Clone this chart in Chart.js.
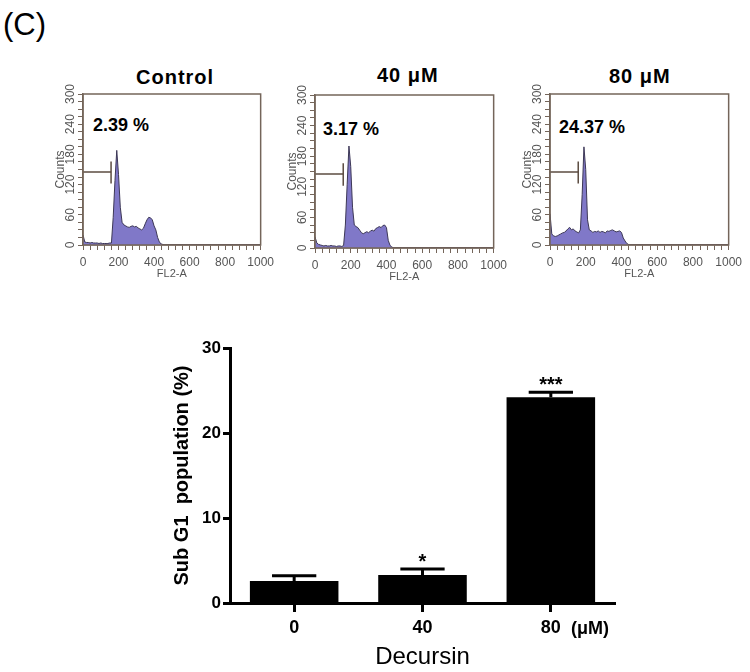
<!DOCTYPE html>
<html>
<head>
<meta charset="utf-8">
<script src="https://cdn.jsdelivr.net/npm/chart.js@4.4.0/dist/chart.umd.min.js"></script>
<style>
  body { margin: 0; background: #fff; font-family: "Liberation Sans", Arial, sans-serif; }
  #page { position: relative; width: 750px; height: 672px; overflow: hidden; }
  .abs { position: absolute; white-space: nowrap; line-height: 1; color: #000; }
  .panel-title { font-size: 20px; font-weight: bold; letter-spacing: 1px; }
  .pct { font-size: 18px; font-weight: bold; }
  canvas { position: absolute; }
</style>
</head>
<body>
<div id="page">
  <div class="abs" style="left:3px; top:9px; font-size:31px;">(C)</div>

  <div class="abs panel-title" style="left:136px; top:67px;">Control</div>
  <div class="abs panel-title" style="left:377px; top:65px;">40 μM</div>
  <div class="abs panel-title" style="left:609px; top:66px;">80 μM</div>

  <div class="abs pct" style="left:93px; top:116px;">2.39 %</div>
  <div class="abs pct" style="left:323px; top:120px;">3.17 %</div>
  <div class="abs pct" style="left:559px; top:118px;">24.37 %</div>

  <canvas id="histControl" width="239" height="201" style="left:40px; top:84px;"></canvas>
  <canvas id="hist40" width="240" height="203" style="left:272px; top:85px;"></canvas>
  <canvas id="hist80" width="240" height="201" style="left:507px; top:84px;"></canvas>

  <canvas id="barChart" width="490" height="342" style="left:140px; top:330px;"></canvas>
  <div class="abs" style="left:571px; top:619px; font-size:18px; font-weight:bold;">(μM)</div>
</div>

<script>
// --- histogram data (FL2-A channel vs counts) ---
const channels = [0, 10, 20, 30, 40, 50, 60, 70, 80, 90,
                  100, 110, 120, 130, 140, 150, 160, 170, 180, 190,
                  200, 210, 220, 230, 240, 250, 260, 270, 280, 290,
                  300, 310, 320, 330, 340, 350, 360, 370, 380, 390,
                  400, 410, 420, 430, 440, 450, 460, 470, 1000];

const controlCounts = [20, 6, 5, 5, 4, 5, 4, 4, 4, 3,
                       4, 3, 3, 3, 3, 4, 4, 55, 128, 188,
                       140, 75, 45, 40, 38, 36, 35, 37, 38, 36,
                       37, 34, 32, 30, 33, 42, 50, 55, 54, 50,
                       38, 30, 15, 6, 2, 1, 0, 0, 0];

const dose40Counts = [22, 10, 7, 6, 5, 4, 5, 4, 4, 5,
                      4, 4, 3, 4, 4, 3, 5, 45, 125, 200,
                      160, 80, 45, 42, 40, 35, 30, 28, 30, 32,
                      30, 33, 35, 33, 38, 40, 42, 40, 44, 45,
                      40, 15, 5, 2, 0, 0, 0, 0, 0];

const dose80Counts = [62, 22, 18, 17, 18, 20, 22, 24, 25, 28,
                      32, 35, 30, 32, 28, 26, 24, 30, 100, 195,
                      150, 50, 30, 28, 25, 27, 26, 28, 25, 27,
                      26, 24, 28, 27, 29, 30, 28, 26, 27, 28,
                      25, 14, 8, 3, 1, 0, 0, 0, 0];

// M1 gate marker (sub-G1 region)
const gateStart = 0;
const gateEnd = 158;
const gateLevel = 145;
const gateLow = 122;
const gateHigh = 166;

// --- bar chart data ---
const doses = ['0', '40', '80'];
const subG1Mean = [2.6, 3.3, 24.2];
const subG1Sem = [0.6, 0.7, 0.6];
const significance = ['', '*', '***'];

const histFill = '#8078c8';
const histLine = '#3d3856';
const axisBrown = '#74655a';
const labelGray = '#555555';

// box around the histogram plot area
const framePlugin = {
    id: 'frame',
    afterDatasetsDraw(chart) {
        const { ctx, chartArea: a } = chart;
        ctx.save();
        ctx.strokeStyle = axisBrown;
        ctx.lineWidth = 1.5;
        ctx.strokeRect(a.left, a.top, a.right - a.left, a.bottom - a.top);
        ctx.restore();
    }
};

function makeHistogram(canvasId, counts) {
    const points = channels.map((c, i) => ({ x: c, y: counts[i] }));
    new Chart(document.getElementById(canvasId), {
        type: 'line',
        data: {
            datasets: [
                {
                    data: points,
                    fill: 'origin',
                    backgroundColor: histFill,
                    borderColor: histLine,
                    borderWidth: 1,
                    pointRadius: 0,
                    tension: 0
                },
                {
                    data: [{ x: gateStart, y: gateLevel }, { x: gateEnd, y: gateLevel }],
                    borderColor: '#5b4b40',
                    borderWidth: 1.5,
                    pointRadius: 0,
                    fill: false
                },
                {
                    data: [{ x: gateEnd, y: gateLow }, { x: gateEnd, y: gateHigh }],
                    borderColor: '#5b4b40',
                    borderWidth: 1.5,
                    pointRadius: 0,
                    fill: false
                }
            ]
        },
        options: {
            responsive: false,
            animation: false,
            layout: { padding: { top: 10, right: 12, left: 0, bottom: 0 } },
            plugins: { legend: { display: false }, tooltip: { enabled: false } },
            scales: {
                x: {
                    type: 'linear',
                    min: 0,
                    max: 1000,
                    afterFit: s => { s.height = 40; },
                    border: { color: axisBrown, width: 1.5 },
                    grid: { drawOnChartArea: false, tickLength: 5, color: axisBrown },
                    ticks: {
                        stepSize: 40,
                        autoSkip: false,
                        maxRotation: 0,
                        padding: 5,
                        color: labelGray,
                        font: { family: "'Liberation Sans', Arial", size: 12 },
                        callback: v => (v % 200 === 0 ? v : '')
                    },
                    title: {
                        display: true,
                        text: 'FL2-A',
                        color: labelGray,
                        padding: { top: 0, bottom: 4 },
                        font: { family: "'Liberation Sans', Arial", size: 11 }
                    }
                },
                y: {
                    min: 0,
                    max: 300,
                    afterFit: s => { s.width = 43; },
                    border: { color: axisBrown, width: 1.5 },
                    grid: { drawOnChartArea: false, tickLength: 5, color: axisBrown },
                    ticks: {
                        stepSize: 15,
                        autoSkip: false,
                        minRotation: 90,
                        maxRotation: 90,
                        crossAlign: 'center',
                        padding: -3,
                        color: labelGray,
                        font: { family: "'Liberation Sans', Arial", size: 12 },
                        callback: v => (v % 60 === 0 ? v : '')
                    },
                    title: {
                        display: true,
                        text: 'Counts',
                        color: labelGray,
                        padding: { top: 13, bottom: 0 },
                        font: { family: "'Liberation Sans', Arial", size: 12 }
                    }
                }
            }
        },
        plugins: [framePlugin]
    });
}

makeHistogram('histControl', controlCounts);
makeHistogram('hist40', dose40Counts);
makeHistogram('hist80', dose80Counts);

// error bars + significance stars on top of the bars
const errorBarPlugin = {
    id: 'errorBars',
    afterDatasetsDraw(chart) {
        const { ctx, scales: { x, y } } = chart;
        const bars = chart.getDatasetMeta(0).data;
        ctx.save();
        ctx.strokeStyle = '#000';
        ctx.fillStyle = '#000';
        ctx.lineWidth = 3;
        subG1Mean.forEach((m, i) => {
            const px = x.getPixelForValue(i);
            const half = bars[i].width / 4;
            const yBar = y.getPixelForValue(m);
            const yTop = y.getPixelForValue(m + subG1Sem[i]);
            ctx.beginPath();
            ctx.moveTo(px, yBar);
            ctx.lineTo(px, yTop);
            ctx.moveTo(px - half, yTop);
            ctx.lineTo(px + half, yTop);
            ctx.stroke();
            if (significance[i]) {
                ctx.font = "bold 20px 'Liberation Sans', Arial";
                ctx.textAlign = 'center';
                ctx.textBaseline = 'alphabetic';
                ctx.fillText(significance[i], px, yTop - 1);
            }
        });
        ctx.restore();
    }
};

new Chart(document.getElementById('barChart'), {
    type: 'bar',
    data: {
        labels: doses,
        datasets: [{
            data: subG1Mean,
            backgroundColor: '#000',
            borderWidth: 0,
            categoryPercentage: 1,
            barPercentage: 0.69
        }]
    },
    options: {
        responsive: false,
        animation: false,
        layout: { padding: { top: 18, right: 15, left: 0, bottom: 0 } },
        plugins: { legend: { display: false }, tooltip: { enabled: false } },
        scales: {
            x: {
                afterFit: s => { s.height = 69; },
                border: { color: '#000', width: 3 },
                grid: { display: true, drawOnChartArea: false, offset: false, tickLength: 9, tickWidth: 3, tickColor: '#000' },
                ticks: {
                    color: '#000',
                    padding: 5,
                    font: { family: "'Liberation Sans', Arial", size: 18, weight: 'bold' }
                },
                title: {
                    display: true,
                    text: 'Decursin',
                    color: '#000',
                    padding: { top: 0, bottom: 0 },
                    font: { family: "'Liberation Sans', Arial", size: 24 }
                }
            },
            y: {
                min: 0,
                max: 30,
                afterFit: s => { s.width = 90; },
                border: { color: '#000', width: 3 },
                grid: { drawOnChartArea: false, tickLength: 7, tickWidth: 3, tickColor: '#000' },
                ticks: {
                    stepSize: 10,
                    color: '#000',
                    padding: 2,
                    font: { family: "'Liberation Sans', Arial", size: 17, weight: 'bold' }
                },
                title: {
                    display: true,
                    text: 'Sub G1  population (%)',
                    color: '#000',
                    padding: { top: 30, bottom: 0 },
                    font: { family: "'Liberation Sans', Arial", size: 20, weight: 'bold' }
                }
            }
        }
    },
    plugins: [errorBarPlugin]
});
</script>
</body>
</html>
